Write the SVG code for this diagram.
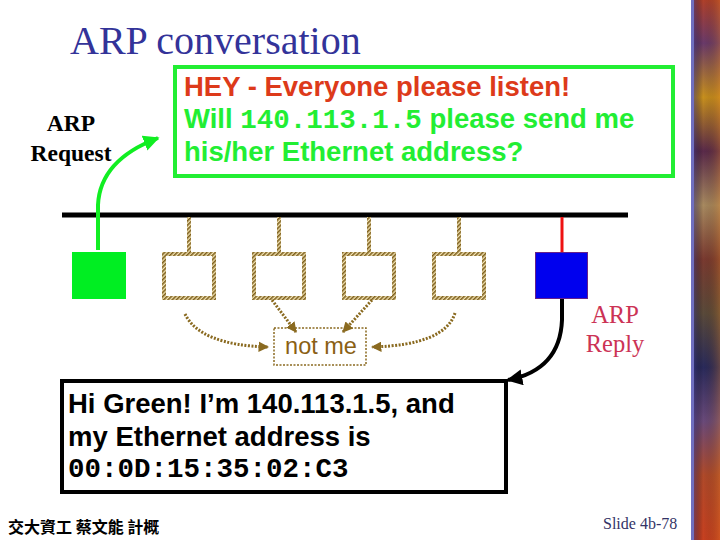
<svg xmlns="http://www.w3.org/2000/svg" width="720" height="540" viewBox="0 0 720 540">
<style>
.title{font-family:"Liberation Serif",serif;font-size:40px;fill:#333399}
.lbl{font-family:"Liberation Serif",serif;font-size:23.5px;font-weight:bold;fill:#000}
.reply{font-family:"Liberation Serif",serif;font-size:24.5px;fill:#cc3355}
.sans{font-family:"Liberation Sans",Arial,sans-serif;font-weight:bold;font-size:27.5px}
.mono{font-family:"Liberation Mono","Courier New",monospace;font-weight:bold;font-size:27.5px}
.hatch{fill:#fff;stroke:url(#hatch);stroke-width:4}
.stem{stroke:url(#hatch);stroke-width:4}
.dot{fill:none;stroke:#8a6a20;stroke-width:3;stroke-dasharray:2 1.5}
</style>
<defs>
<pattern id="hatch" patternUnits="userSpaceOnUse" width="3" height="3" patternTransform="rotate(45)">
<rect width="3" height="3" fill="#f3e4b4"/>
<rect width="1.6" height="3" fill="#7d5f1e"/>
</pattern>
<marker id="ag" viewBox="0 0 10 10" refX="9" refY="5" markerWidth="4" markerHeight="4" orient="auto" markerUnits="strokeWidth">
<path d="M0,0 L10,5 L0,10 z" fill="#11ee22"/>
</marker>
<marker id="ab" viewBox="0 0 10 10" refX="9" refY="5" markerWidth="4" markerHeight="4" orient="auto" markerUnits="strokeWidth">
<path d="M0,0 L10,5 L0,10 z" fill="#000"/>
</marker>
<marker id="ad" viewBox="0 0 10 10" refX="9" refY="5" markerWidth="3.5" markerHeight="3.5" orient="auto" markerUnits="strokeWidth">
<path d="M0,0 L10,5 L0,10 z" fill="#8a6a20"/>
</marker>
<linearGradient id="strip" x1="0" y1="0" x2="0" y2="1">
<stop offset="0" stop-color="#b0402a"/>
<stop offset="0.08" stop-color="#6a3a6a"/>
<stop offset="0.18" stop-color="#c8901e"/>
<stop offset="0.28" stop-color="#5a2a4a"/>
<stop offset="0.38" stop-color="#a88a60"/>
<stop offset="0.48" stop-color="#7a3a30"/>
<stop offset="0.58" stop-color="#5a4a3a"/>
<stop offset="0.68" stop-color="#2a2a5a"/>
<stop offset="0.78" stop-color="#6a4a7a"/>
<stop offset="0.88" stop-color="#b04a2a"/>
<stop offset="1" stop-color="#c84020"/>
</linearGradient>
<linearGradient id="stripH" x1="0" y1="0" x2="1" y2="0">
<stop offset="0" stop-color="#4040a0" stop-opacity="0.6"/>
<stop offset="0.4" stop-color="#000" stop-opacity="0"/>
<stop offset="1" stop-color="#e08020" stop-opacity="0.3"/>
</linearGradient>
</defs>
<rect width="720" height="540" fill="#fff"/>
<g id="strip-deco">
<rect x="692" y="0" width="28" height="540" fill="url(#strip)"/>
<rect x="692" y="0" width="28" height="540" fill="url(#stripH)"/>
<rect x="691" y="0" width="3" height="540" fill="#7070c0"/>
</g>
<text class="title" x="70" y="54">ARP conversation</text>
<g id="arp-request-label">
<text class="lbl" x="71" y="131" text-anchor="middle">ARP</text>
<text class="lbl" x="71" y="161" text-anchor="middle">Request</text>
</g>
<g id="request-box">
<rect x="175" y="67" width="498" height="109" fill="#fff" stroke="#22ee33" stroke-width="4"/>
<text class="sans" x="184" y="96" fill="#dd3a1a">HEY - Everyone please listen!</text>
<text class="sans" x="184" y="128" fill="#22ee33">Will <tspan class="mono">140.113.1.5</tspan> please send me</text>
<text class="sans" x="184" y="161" fill="#22ee33">his/her Ethernet address?</text>
</g>
<g id="bus"><line x1="62" y1="215" x2="628" y2="215" stroke="#000" stroke-width="5"/></g>
<g id="green-host"><rect x="72" y="252" width="54" height="47" fill="#00ee22"/></g>
<g id="host-1"><line class="stem" x1="189" y1="217" x2="189" y2="252"/><rect class="hatch" x="164" y="254" width="50" height="44"/></g>
<g id="host-2"><line class="stem" x1="279" y1="217" x2="279" y2="252"/><rect class="hatch" x="254" y="254" width="50" height="44"/></g>
<g id="host-3"><line class="stem" x1="369" y1="217" x2="369" y2="252"/><rect class="hatch" x="344" y="254" width="50" height="44"/></g>
<g id="host-4"><line class="stem" x1="459" y1="217" x2="459" y2="252"/><rect class="hatch" x="434" y="254" width="50" height="44"/></g>
<g id="blue-host">
<line x1="562" y1="217" x2="562" y2="252" stroke="#ee1111" stroke-width="3"/>
<rect x="535.5" y="252.5" width="52" height="46" fill="#0000ee" stroke="#662288" stroke-width="1"/>
</g>
<g id="not-me">
<rect x="274" y="328" width="92" height="37" fill="#fff" stroke="#8a6a20" stroke-width="1.5" stroke-dasharray="2 1.5"/>
<text x="321" y="354" text-anchor="middle" font-family="Liberation Sans,Arial,sans-serif" font-size="23.5" fill="#8a6014">not me</text>
</g>
<g id="arp-reply-label">
<text class="reply" x="615" y="323" text-anchor="middle">ARP</text>
<text class="reply" x="615" y="352" text-anchor="middle">Reply</text>
</g>
<g id="reply-box">
<rect x="62" y="381" width="444" height="111" fill="#fff" stroke="#000" stroke-width="4"/>
<text class="sans" x="68" y="413" fill="#000">Hi Green! I’m 140.113.1.5, and</text>
<text class="sans" x="68" y="446" fill="#000">my Ethernet address is</text>
<text class="mono" x="68" y="477" fill="#000">00:0D:15:35:02:C3</text>
</g>
<g id="connectors">
<path d="M98,250 L98,205 Q100,160 158,138" fill="none" stroke="#11ee22" stroke-width="4" marker-end="url(#ag)"/>
<path d="M562,299 L562,320 Q560,370 508,380" fill="none" stroke="#000" stroke-width="4" marker-end="url(#ab)"/>
<path class="dot" d="M185,314 Q200,345 268,347" marker-end="url(#ad)"/>
<path class="dot" d="M272,300 L296,332" marker-end="url(#ad)"/>
<path class="dot" d="M372,300 L343,332" marker-end="url(#ad)"/>
<path class="dot" d="M455,313 Q445,345 372,347" marker-end="url(#ad)"/>
</g>
<g id="footer">
<text x="8" y="533" font-family="Noto Sans CJK TC,Noto Sans CJK SC,sans-serif" font-size="16" font-weight="bold" fill="#000">交大資工 蔡文能 計概</text>
<text x="603" y="529" font-family="Liberation Serif,serif" font-size="16" fill="#333366">Slide 4b-78</text>
</g>
</svg>
